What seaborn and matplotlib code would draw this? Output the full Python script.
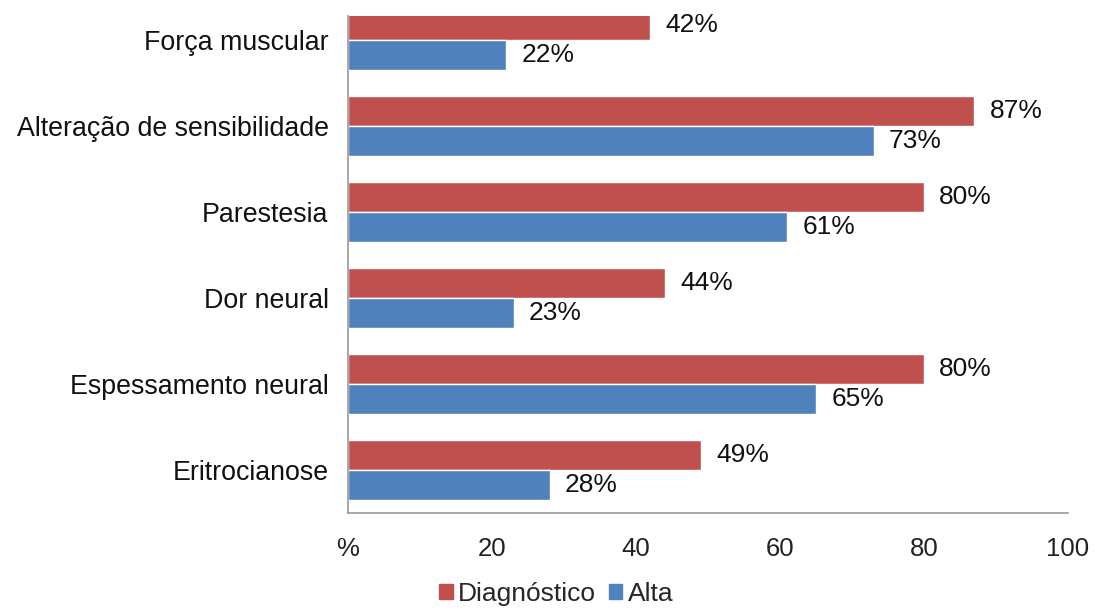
import matplotlib
matplotlib.use("Agg")
import matplotlib.pyplot as plt
import seaborn as sns
import pandas as pd

categories = ["Força muscular", "Alteração de sensibilidade", "Parestesia",
              "Dor neural", "Espessamento neural", "Eritrocianose"]
diagnostico = [42, 87, 80, 44, 80, 49]
alta = [22, 73, 61, 23, 65, 28]
series_names = ["Diagnóstico", "Alta"]
x_ticks = [0, 20, 40, 60, 80, 100]
x_tick_labels = ["%", "20", "40", "60", "80", "100"]

RED = "#C0504D"
BLUE = "#4F81BD"

sns.set_theme(style="white")
plt.rcParams["font.family"] = ["Liberation Sans", "DejaVu Sans"]

df = pd.DataFrame({
    "categoria": categories * 2,
    "valor": diagnostico + alta,
    "serie": [series_names[0]] * len(categories) + [series_names[1]] * len(categories),
})

fig = plt.figure(figsize=(10.95, 6.12), dpi=100)
ax = fig.add_axes([348 / 1095, 99 / 612, 720 / 1095, 497 / 612])

sns.barplot(data=df, y="categoria", x="valor", hue="serie", order=categories,
            hue_order=series_names, palette=[RED, BLUE], orient="h",
            width=0.7, saturation=1, ax=ax, legend=True)

ax.set_xlim(0, 100)
ax.set_ylim(5.5, -0.28)
ax.set_xticks(x_ticks)
ax.set_xticklabels(x_tick_labels, fontsize=18.5, color="#222222")
ax.tick_params(axis="x", length=0, pad=17)
ax.tick_params(axis="y", length=0, pad=14, labelsize=19.3, labelcolor="#111111")
ax.set_xlabel("")
ax.set_ylabel("")

for side in ["top", "right"]:
    ax.spines[side].set_visible(False)
for side in ["left", "bottom"]:
    ax.spines[side].set_color("#999999")
    ax.spines[side].set_linewidth(1.2)

for container, vals in zip(ax.containers, [diagnostico, alta]):
    ax.bar_label(container, labels=[f"{v}%" for v in vals], padding=11,
                 fontsize=19, color="#111111")

ax.get_legend().remove()
handles = [plt.Rectangle((0, 0), 1, 1, color=RED), plt.Rectangle((0, 0), 1, 1, color=BLUE)]
fig.legend(handles, series_names, loc="center", bbox_to_anchor=(0.508, 0.03),
           ncol=2, frameon=False, fontsize=19, handlelength=0.5, handleheight=0.5,
           handletextpad=0.2, columnspacing=0.5, borderpad=0.1)

fig.savefig("out.png", dpi=100)
